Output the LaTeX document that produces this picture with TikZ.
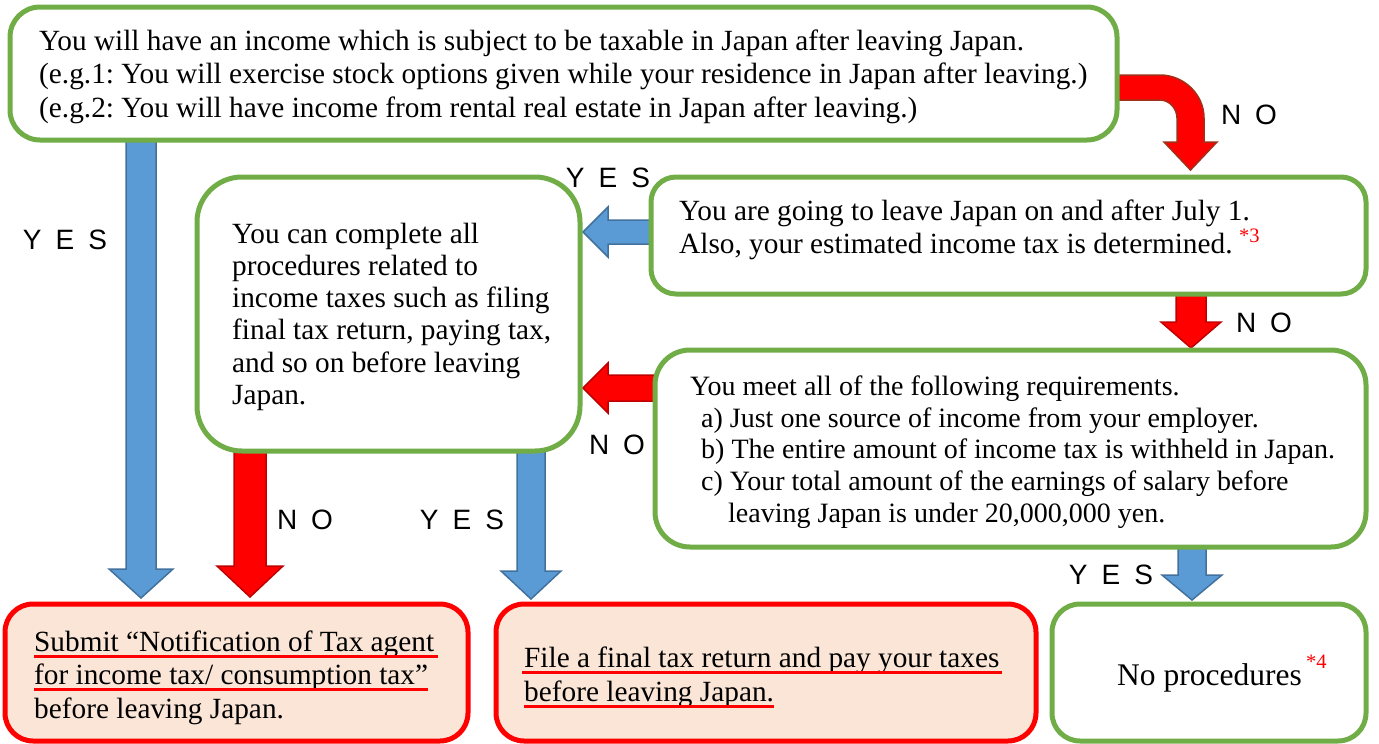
\documentclass[tikz,border=0pt]{standalone}
\usepackage{fontspec}
\setmainfont{Liberation Serif}
\newfontfamily\lblfont{Liberation Sans}
\definecolor{grn}{HTML}{70AD47}
\definecolor{blueF}{HTML}{5B9BD5}
\definecolor{blueD}{HTML}{41719C}
\definecolor{redF}{HTML}{FF0000}
\definecolor{redD}{HTML}{C00000}
\definecolor{brownD}{HTML}{A0301A}
\definecolor{peach}{HTML}{FBE5D6}
\frenchspacing
\newcommand\fsA{\fontsize{29.3}{34}\selectfont}
\newcommand\fsB{\fontsize{28}{33}\selectfont}
\newcommand\fsC{\fontsize{31.5}{36}\selectfont}
\newcommand\fsS{\fontsize{20.5}{20}\selectfont}
\newcommand\lblf{\lblfont\fontsize{28}{28}\selectfont}
% vertical block arrow: fill, draw, xc, y1, y2, shaft half, head half, head length
\newcommand\vblock[8]{%
  \filldraw[fill=#1, draw=#2, line width=1.5pt, line join=miter]
  (#3-#6,#4) -- (#3+#6,#4) -- (#3+#6,#5-#8) -- (#3+#7,#5-#8) -- (#3,#5)
  -- (#3-#7,#5-#8) -- (#3-#6,#5-#8) -- cycle;}
% leftward block arrow: fill, draw, x start (right), x tip, yc, shaft half, head half, head length
\newcommand\hblock[8]{%
  \filldraw[fill=#1, draw=#2, line width=1.5pt, line join=miter]
  (#3,#5-#6) -- (#4+#8,#5-#6) -- (#4+#8,#5-#7) -- (#4,#5) -- (#4+#8,#5+#7)
  -- (#4+#8,#5+#6) -- (#3,#5+#6) -- cycle;}
\tikzset{
  gbox/.style={draw=grn, line width=5pt, fill=white, inner sep=0pt},
  rbox/.style={draw=redF, line width=5pt, fill=peach, inner sep=0pt},
  txt/.style={anchor=base west, inner sep=0pt, font=\fsA},
  txtB/.style={anchor=base west, inner sep=0pt, font=\fsB},
  sup/.style={anchor=base west, inner sep=0pt, font=\fsS, text=redF},
  lbl/.style={inner sep=0pt, font=\lblf},
  uline/.style={draw=redF, line width=3pt}
}
\begin{document}
\begin{tikzpicture}[x=1pt,y=-1pt]
\useasboundingbox (0,0) rectangle (1379,744);

% ---- arrows (drawn first, boxes cover their roots)
\filldraw[fill=redF, draw=brownD, line width=1.5pt, line join=miter]
  (1114,75) -- (1160,75) .. controls (1183.7,75) and (1204,94.3) .. (1204,118)
  -- (1204,142) -- (1217,142) -- (1190.5,170) -- (1164,142) -- (1177,142)
  -- (1177,118) .. controls (1177,108.6) and (1169.4,100) .. (1160,100)
  -- (1114,100) -- cycle;
\vblock{blueF}{blueD}{141}{141}{598}{15}{32}{29}
\vblock{redF}{redD}{250}{450}{597}{16}{33}{31}
\vblock{blueF}{blueD}{531}{450}{599}{14}{30}{28}
\vblock{redF}{redD}{1191}{293}{348}{15}{30}{26}
\vblock{blueF}{blueD}{1192}{547}{600}{14}{30}{25}
\hblock{blueF}{blueD}{651}{583}{232}{12}{25}{25}
\hblock{redF}{redD}{655}{583}{388}{13}{25}{25}

% ---- boxes
\node[gbox, rounded corners=30pt, minimum width=1107pt, minimum height=133pt] (top) at (563.5,73.5) {};
\node[gbox, rounded corners=45pt, minimum width=383pt, minimum height=274pt] (left) at (388.5,314) {};
\node[gbox, rounded corners=25pt, minimum width=715pt, minimum height=117pt] (r1) at (1008.5,235.5) {};
\node[gbox, rounded corners=35pt, minimum width=711pt, minimum height=197pt] (r2) at (1010.5,448.5) {};
\node[rbox, rounded corners=28pt, minimum width=463pt, minimum height=137pt] (b1) at (236.5,672.5) {};
\node[rbox, rounded corners=28pt, minimum width=540pt, minimum height=137pt] (b2) at (766,672.5) {};
\node[gbox, rounded corners=28pt, minimum width=314pt, minimum height=137pt] (b3) at (1209,672.5) {};

% ---- texts: top box
\node[txt] (t1) at (39,50) {You will have an income which is subject to be taxable in Japan after leaving Japan.};
\node[txt] (t2) at (39,83.5) {(e.g.1: You will exercise stock options given while your residence in Japan after leaving.)};
\node[txt] (t3) at (39,117) {(e.g.2: You will have income from rental real estate in Japan after leaving.)};

% left box
\node[txt] (l1) at (232,243) {You can complete all};
\node[txt] (l2) at (232,275) {procedures related to};
\node[txt] (l3) at (232,307.5) {income taxes such as filing};
\node[txt] (l4) at (232,339.5) {final tax return, paying tax,};
\node[txt] (l5) at (232,372) {and so on before leaving};
\node[txt] (l6) at (232,404) {Japan.};

% r1
\node[txt] (r1a) at (679,220) {You are going to leave Japan on and after July 1.};
\node[txt] (r1b) at (679,253) {Also, your estimated income tax is determined.};
\node[sup] (s3) at (1239,242) {*3};

% r2
\node[txtB] (r2a) at (690,395) {You meet all of the following requirements.};
\node[txtB] (r2b) at (701,427) {a) Just one source of income from your employer.};
\node[txtB] (r2c) at (701,458) {b) The entire amount of income tax is withheld in Japan.};
\node[txtB] (r2d) at (701,490) {c) Your total amount of the earnings of salary before};
\node[txtB] (r2e) at (728,522) {leaving Japan is under 20,000,000 yen.};

% b1
\node[txt] (b1a) at (34,651) {Submit “Notification of Tax agent};
\node[txt] (b1b) at (34,684) {for income tax/ consumption tax”};
\node[txt] (b1c) at (34,718) {before leaving Japan.};
\draw[uline] ([yshift=-5.5pt]b1a.base west) -- ([yshift=-5.5pt,xshift=4pt]b1a.base east);
\draw[uline] ([yshift=-5.5pt]b1b.base west) -- ([yshift=-5.5pt]b1b.base east);

% b2
\node[txt] (b2a) at (524,667) {File a final tax return and pay your taxes};
\node[txt] (b2b) at (524,701) {before leaving Japan.};
\draw[uline] ([yshift=-5.5pt,xshift=-2pt]b2a.base west) -- ([yshift=-5.5pt,xshift=2pt]b2a.base east);
\draw[uline] ([yshift=-5.5pt]b2b.base west) -- ([yshift=-5.5pt]b2b.base east);

% b3
\node[anchor=base west, inner sep=0pt, font=\fsC] (b3a) at (1117,685) {No procedures};
\node[sup] (s4) at (1306,668) {*4};

% ---- labels
\node[lbl] (yes1) at (65,240) {Y\kern14pt E\kern14pt S};
\node[lbl] (no1) at (1249,115) {N\kern14pt O};
\node[lbl] (yes2) at (608,178) {Y\kern14pt E\kern14pt S};
\node[lbl] (no2) at (1264,323) {N\kern14pt O};
\node[lbl] (no3) at (617,445) {N\kern14pt O};
\node[lbl] (no4) at (305,520) {N\kern14pt O};
\node[lbl] (yes3) at (462,520) {Y\kern14pt E\kern14pt S};
\node[lbl] (yes4) at (1111,575) {Y\kern14pt E\kern14pt S};
\end{tikzpicture}
\end{document}
